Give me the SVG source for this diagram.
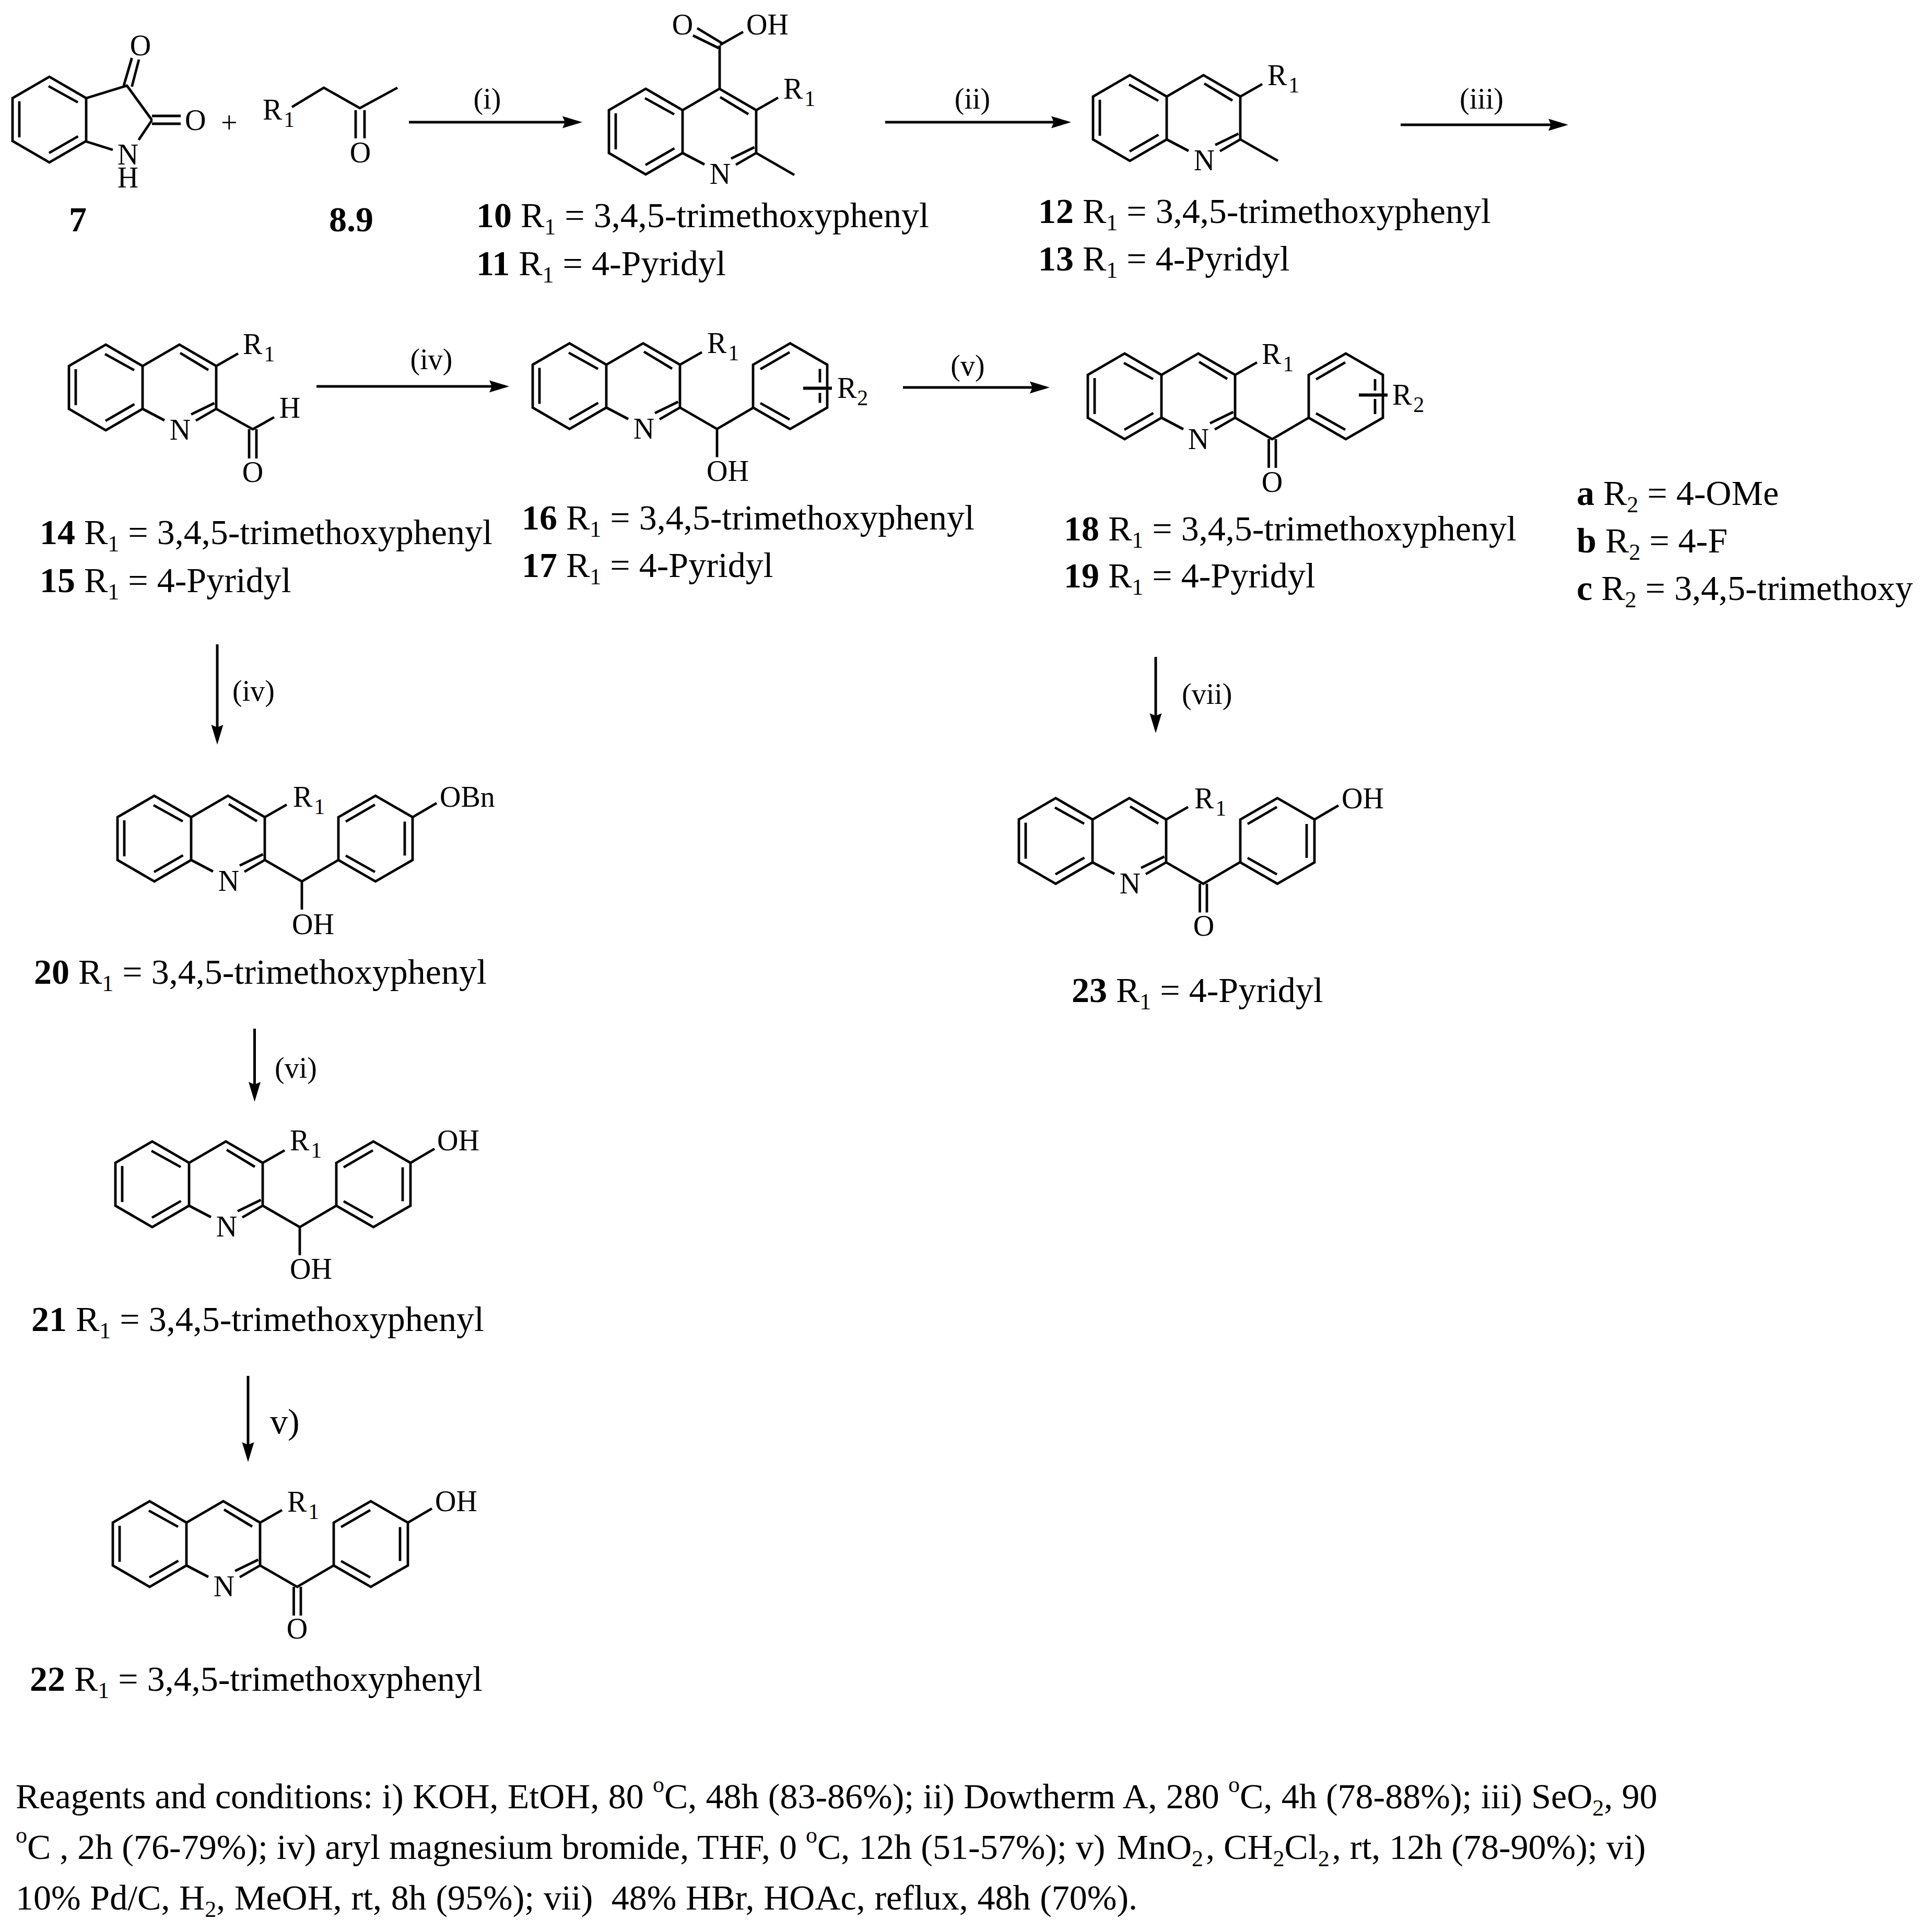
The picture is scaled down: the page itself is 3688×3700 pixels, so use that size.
<svg xmlns="http://www.w3.org/2000/svg" width="3688" height="3700" viewBox="0 0 3688 3700">
<style>
text{font-family:"Liberation Serif","Times New Roman",serif;fill:#000;white-space:pre}
.l{font-size:68px}.b{font-weight:bold}.s{font-size:44px}
.a{font-size:56px}.as{font-size:42px}.m{text-anchor:middle}
.bond{fill:none;stroke:#000;stroke-width:4.8;stroke-linejoin:miter;stroke-linecap:butt}
.heavy{fill:none;stroke:#000;stroke-width:6}
.arrow{fill:none;stroke:#000;stroke-width:5}
</style>
<defs>
<marker id="head" markerUnits="userSpaceOnUse" markerWidth="42" markerHeight="28" refX="30" refY="14" orient="auto"><path d="M0,2.5 L38,14 L0,25.5 L5,14 Z" fill="#000"/></marker>
<path id="bz" class="bond" d="M-70.5,-41 L-141,0 V82 L-70.5,123 L0,82 V0 Z M-72,-23 L-16,8 M-128,6 V75 M-71,105 L-15.5,73"/>
<path id="py" class="bond" d="M0,0 L70.5,-41 L141,0 V82 M0,82 L42,104 M141,82 L102,104.5 M72,-25 L126,7.6 M93,92.6 L137.5,71"/>
<path id="r1b" class="bond" d="M141,0 L183,-24"/>
<path id="ph" class="bond" d="M0,0 L71,-41 L142,0 V82 L71,123 L0,82 Z M14,8.5 L70,-24 M14,73.5 L70,105"/>
<path id="phr" class="bond" d="M127,8.5 V73.5"/>
<path id="co" class="bond" d="M141,82 L212,123 L282,82 M205.5,123 V178 M219,123 V178"/>
<path id="coh" class="bond" d="M141,82 L212,123 L282,82 M212,123 V177"/>
<path id="pOH" class="bond" d="M424,0 L470,-27"/>
</defs>
<g id="connectors">
<line class="arrow" x1="783" y1="234" x2="1107" y2="234" marker-end="url(#head)"/>
<line class="arrow" x1="1695" y1="234" x2="2043" y2="234" marker-end="url(#head)"/>
<line class="arrow" x1="2682" y1="239" x2="2995" y2="239" marker-end="url(#head)"/>
<line class="arrow" x1="606" y1="740" x2="967" y2="740" marker-end="url(#head)"/>
<line class="arrow" x1="1729" y1="742" x2="2002" y2="742" marker-end="url(#head)"/>
<line class="arrow" x1="416" y1="1234" x2="416" y2="1418" marker-end="url(#head)"/>
<line class="arrow" x1="487.5" y1="1970" x2="487.5" y2="2102" marker-end="url(#head)"/>
<line class="arrow" x1="475" y1="2635" x2="475" y2="2792" marker-end="url(#head)"/>
<line class="arrow" x1="2213" y1="1258" x2="2213" y2="1396" marker-end="url(#head)"/>
<text class="a m" x="933" y="208">(i)</text>
<text class="a m" x="1862" y="208">(ii)</text>
<text class="a m" x="2837" y="208">(iii)</text>
<text class="a m" x="826" y="707">(iv)</text>
<text class="a m" x="1853" y="719">(v)</text>
<text class="a" x="445" y="1342">(iv)</text>
<text class="a" x="526" y="2064">(vi)</text>
<text class="l" x="517" y="2745">v)</text>
<text class="a" x="2263" y="1348">(vii)</text>
</g>
<g id="n7">
<use href="#bz" transform="translate(165,188)"/>
<path class="bond" d="M165,188 L243,164 L291,230 M237,164 L252.5,111 M252.5,166 L266,114 M291,222 H346 M291,237 H346 M291,230 L265.5,268 M165,271 L216,287"/>
<text class="a m" x="269" y="106">O</text>
<text class="a" x="354" y="249">O</text>
<text class="a m" x="245" y="315">N</text>
<text class="a m" x="245" y="359">H</text>
<text class="l b m" x="149" y="443">7</text>
</g>
<text class="a" x="423" y="254">+</text>
<g id="n8">
<path class="bond" d="M559,205 L620,168 L689,207 L761,168 M681,211 V265 M698,211 V265"/>
<text class="a" x="503" y="229">R<tspan class="as" dy="14" dx="3">1</tspan></text>
<text class="a m" x="690" y="311">O</text>
<text class="l b" x="630" y="443">8.9</text>
</g>
<g id="n10">
<g transform="translate(1307,211)">
<use href="#bz"/><use href="#py"/><use href="#r1b"/>
<path class="bond" d="M71,-41 V-124 M28,-157 L76,-128 M20,-143 L69,-119 M72,-125 L116,-150 M141,82 L214,124"/>
<text class="a m" x="0" y="-145">O</text><text class="a" x="122" y="-145">OH</text>
<text class="a" x="193" y="-22">R<tspan class="as" dy="14" dx="3">1</tspan></text>
<text class="a m" x="72" y="141">N</text>
</g>
<text class="l" x="912" y="435"><tspan class="b">10</tspan> R<tspan class="s" dy="14">1</tspan><tspan dy="-14"> = 3,4,5-trimethoxyphenyl</tspan></text>
<text class="l" x="912" y="527"><tspan class="b">11</tspan> R<tspan class="s" dy="14">1</tspan><tspan dy="-14"> = 4-Pyridyl</tspan></text>
</g>
<g id="n12">
<g transform="translate(2234,185)">
<use href="#bz"/><use href="#py"/><use href="#r1b"/>
<path class="bond" d="M141,82 L213,123"/>
<text class="a" x="193" y="-22">R<tspan class="as" dy="14" dx="3">1</tspan></text>
<text class="a m" x="72" y="141">N</text>
</g>
<text class="l" x="1988" y="427"><tspan class="b">12</tspan> R<tspan class="s" dy="14">1</tspan><tspan dy="-14"> = 3,4,5-trimethoxyphenyl</tspan></text>
<text class="l" x="1988" y="518"><tspan class="b">13</tspan> R<tspan class="s" dy="14">1</tspan><tspan dy="-14"> = 4-Pyridyl</tspan></text>
</g>
<g id="n14">
<g transform="translate(273,701)">
<use href="#bz"/><use href="#py"/><use href="#r1b"/>
<path class="bond" d="M141,82 L211,121 L252,98 M204,121 V177 M218,121 V177"/>
<text class="a m" x="282" y="99">H</text><text class="a m" x="211" y="222">O</text>
<text class="a" x="192" y="-23">R<tspan class="as" dy="14" dx="3">1</tspan></text>
<text class="a m" x="72" y="141">N</text>
</g>
<text class="l" x="76" y="1042"><tspan class="b">14</tspan> R<tspan class="s" dy="14">1</tspan><tspan dy="-14"> = 3,4,5-trimethoxyphenyl</tspan></text>
<text class="l" x="76" y="1134"><tspan class="b">15</tspan> R<tspan class="s" dy="14">1</tspan><tspan dy="-14"> = 4-Pyridyl</tspan></text>
</g>
<g id="n16">
<g transform="translate(1161,698.5)">
<use href="#bz"/><use href="#py"/><use href="#r1b"/><use href="#coh"/>
<use href="#ph" x="281"/>
<path class="bond" d="M409,8 V34 M409,54 V73"/>
<path class="heavy" d="M377,45 H432"/>
<text class="a" x="193" y="-23">R<tspan class="as" dy="14" dx="3">1</tspan></text>
<text class="a m" x="72" y="141">N</text>
<text class="a" x="192" y="222">OH</text>
<text class="a" x="442" y="63">R<tspan class="as" dy="14" dx="1">2</tspan></text>
</g>
<text class="l" x="999" y="1014"><tspan class="b">16</tspan> R<tspan class="s" dy="14">1</tspan><tspan dy="-14"> = 3,4,5-trimethoxyphenyl</tspan></text>
<text class="l" x="999" y="1105"><tspan class="b">17</tspan> R<tspan class="s" dy="14">1</tspan><tspan dy="-14"> = 4-Pyridyl</tspan></text>
</g>
<g id="n18">
<g transform="translate(2224,718)">
<use href="#bz"/><use href="#py"/><use href="#r1b"/><use href="#co"/>
<use href="#ph" x="282"/>
<path class="bond" d="M409,8 V30 M409,46 V75"/>
<path class="heavy" d="M378,38.5 H433"/>
<text class="a" x="192" y="-21">R<tspan class="as" dy="14" dx="3">1</tspan></text>
<text class="a m" x="71" y="141.5">N</text>
<text class="a m" x="212" y="224">O</text>
<text class="a" x="442" y="56.5">R<tspan class="as" dy="14" dx="3">2</tspan></text>
</g>
<text class="l" x="2037" y="1035"><tspan class="b">18</tspan> R<tspan class="s" dy="14">1</tspan><tspan dy="-14"> = 3,4,5-trimethoxyphenyl</tspan></text>
<text class="l" x="2037" y="1125"><tspan class="b">19</tspan> R<tspan class="s" dy="14">1</tspan><tspan dy="-14"> = 4-Pyridyl</tspan></text>
</g>
<g id="legend">
<text class="l" x="3019" y="967"><tspan class="b">a</tspan> R<tspan class="s" dy="14">2</tspan><tspan dy="-14"> = 4-OMe</tspan></text>
<text class="l" x="3019" y="1058"><tspan class="b">b</tspan> R<tspan class="s" dy="14">2</tspan><tspan dy="-14"> = 4-F</tspan></text>
<text class="l" x="3019" y="1149"><tspan class="b">c</tspan> R<tspan class="s" dy="14">2</tspan><tspan dy="-14"> = 3,4,5-trimethoxy</tspan></text>
</g>
<g id="n20">
<g transform="translate(366,1565)">
<use href="#bz"/><use href="#py"/><use href="#r1b"/><use href="#coh"/>
<use href="#ph" x="282"/><use href="#phr" x="282"/><use href="#pOH"/>
<text class="a" x="195" y="-20">R<tspan class="as" dy="14" dx="3">1</tspan></text>
<text class="a m" x="72" y="141">N</text>
<text class="a" x="193" y="224">OH</text>
<text class="a" x="476" y="-20">OBn</text>
</g>
<text class="l" x="65" y="1884"><tspan class="b">20</tspan> R<tspan class="s" dy="14">1</tspan><tspan dy="-14"> = 3,4,5-trimethoxyphenyl</tspan></text>
</g>
<g id="n21">
<g transform="translate(362,2227)">
<use href="#bz"/><use href="#py"/><use href="#r1b"/><use href="#coh"/>
<use href="#ph" x="282"/><use href="#phr" x="282"/><use href="#pOH"/>
<text class="a" x="193" y="-24">R<tspan class="as" dy="14" dx="3">1</tspan></text>
<text class="a m" x="72" y="141">N</text>
<text class="a" x="193" y="222">OH</text>
<text class="a" x="475" y="-24">OH</text>
</g>
<text class="l" x="60" y="2549"><tspan class="b">21</tspan> R<tspan class="s" dy="14">1</tspan><tspan dy="-14"> = 3,4,5-trimethoxyphenyl</tspan></text>
</g>
<g id="n22">
<g transform="translate(357,2916)">
<use href="#bz"/><use href="#py"/><use href="#r1b"/><use href="#co"/>
<use href="#ph" x="282"/><use href="#phr" x="282"/><use href="#pOH"/>
<text class="a" x="193" y="-21">R<tspan class="as" dy="14" dx="3">1</tspan></text>
<text class="a m" x="72" y="141">N</text>
<text class="a m" x="212" y="222">O</text>
<text class="a" x="476" y="-22">OH</text>
</g>
<text class="l" x="57" y="3238"><tspan class="b">22</tspan> R<tspan class="s" dy="14">1</tspan><tspan dy="-14"> = 3,4,5-trimethoxyphenyl</tspan></text>
</g>
<g id="n23">
<g transform="translate(2092,1569.5)">
<use href="#bz"/><use href="#py"/><use href="#r1b"/><use href="#co"/>
<use href="#ph" x="283"/><use href="#phr" x="283"/><use href="#pOH" x="1"/>
<text class="a" x="195" y="-22">R<tspan class="as" dy="14" dx="3">1</tspan></text>
<text class="a m" x="72" y="141">N</text>
<text class="a m" x="213" y="222">O</text>
<text class="a" x="477" y="-22">OH</text>
</g>
<text class="l" x="2052" y="1919"><tspan class="b">23</tspan> R<tspan class="s" dy="14">1</tspan><tspan dy="-14"> = 4-Pyridyl</tspan></text>
</g>
<g id="conditions">
<text class="l" x="30" y="3463" style="word-spacing:.25px">Reagents and conditions: i) KOH, EtOH, 80 <tspan class="s" dy="-31">o</tspan><tspan dy="31">C, 48h (83-86%); ii) Dowtherm A, 280 </tspan><tspan class="s" dy="-31">o</tspan><tspan dy="31">C, 4h (78-88%); iii) SeO</tspan><tspan class="s" dy="14">2</tspan><tspan dy="-14">, 90</tspan></text>
<text class="l" x="30" y="3560"><tspan class="s" dy="-31">o</tspan><tspan dy="31">C , 2h (76-79%); iv) aryl magnesium bromide, THF, 0 </tspan><tspan class="s" dy="-31">o</tspan><tspan dy="31" dx="0">C, 12h (51-57%); v) </tspan><tspan dx="5">MnO</tspan><tspan class="s" dy="14">2</tspan><tspan dy="-14" dx="5">, CH</tspan><tspan class="s" dy="14">2</tspan><tspan dy="-14">Cl</tspan><tspan class="s" dy="14">2</tspan><tspan dy="-14" dx="5">, rt, 12h (78-90%); vi)</tspan></text>
<text class="l" x="30" y="3657" style="word-spacing:.7px">10% Pd/C, H<tspan class="s" dy="14">2</tspan><tspan dy="-14">, MeOH, rt, 8h (95%); vii)  48% HBr, HOAc, reflux, 48h (70%).</tspan></text>
</g>
</svg>
